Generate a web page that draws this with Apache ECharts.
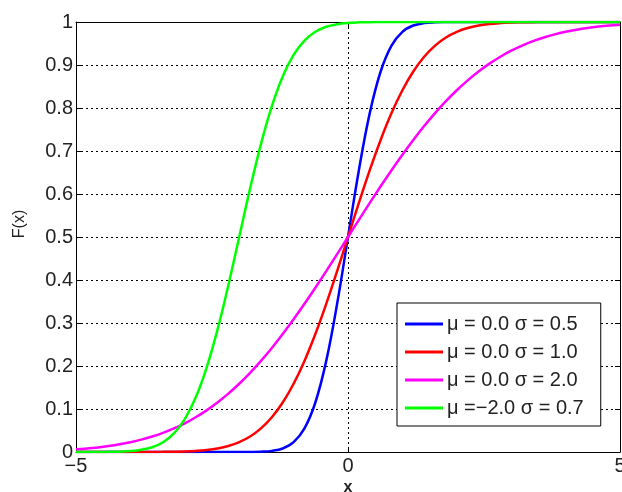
<!DOCTYPE html>
<html>
<head>
<meta charset="utf-8">
<script src="https://cdn.jsdelivr.net/npm/echarts@6/dist/echarts.min.js"></script>
<style>html,body{margin:0;padding:0;background:#fff;}#c{width:622px;height:492px;}</style>
</head>
<body>
<div id="c"></div>
<script>
var xValues = [-5.0,-4.8,-4.6,-4.4,-4.2,-4.0,-3.8,-3.6,-3.4,-3.2,-3.0,-2.8,-2.6,-2.4,-2.2,-2.0,-1.8,-1.6,-1.4,-1.2,-1.0,-0.8,-0.6,-0.4,-0.2,0.0,0.2,0.4,0.6,0.8,1.0,1.2,1.4,1.6,1.8,2.0,2.2,2.4,2.6,2.8,3.0,3.2,3.4,3.6,3.8,4.0,4.2,4.4,4.6,4.8,5.0];
var seriesNames = ['μ = 0.0 σ = 0.5', 'μ = 0.0 σ = 1.0', 'μ = 0.0 σ = 2.0', 'μ =−2.0 σ = 0.7'];
var blueValues = [0,0,0,0,0,0,0,0,0,0,0,0,0,0,0,0.0000,0.0002,0.0007,0.0026,0.0082,0.0228,0.0548,0.1151,0.2119,0.3446,0.5,0.6554,0.7881,0.8849,0.9452,0.9772,0.9918,0.9974,0.9993,0.9998,1,1,1,1,1,1,1,1,1,1,1,1,1,1,1,1];
var redValues = [0,0,0,0,0,0.00003,0.0001,0.0002,0.0003,0.0007,0.0013,0.0026,0.0047,0.0082,0.0139,0.0228,0.0359,0.0548,0.0808,0.1151,0.1587,0.2119,0.2743,0.3446,0.4207,0.5,0.5793,0.6554,0.7257,0.7881,0.8413,0.8849,0.9192,0.9452,0.9641,0.9772,0.9861,0.9918,0.9953,0.9974,0.9987,0.9993,0.9997,0.9998,0.9999,1,1,1,1,1,1];
var magentaValues = [0.0062,0.0082,0.0107,0.0139,0.0179,0.0228,0.0287,0.0359,0.0446,0.0548,0.0668,0.0808,0.0968,0.1151,0.1357,0.1587,0.1841,0.2119,0.2420,0.2743,0.3085,0.3446,0.3821,0.4207,0.4602,0.5,0.5398,0.5793,0.6179,0.6554,0.6915,0.7257,0.7580,0.7881,0.8159,0.8413,0.8643,0.8849,0.9032,0.9192,0.9332,0.9452,0.9554,0.9641,0.9713,0.9772,0.9821,0.9861,0.9893,0.9918,0.9938];
var greenValues = [0,0.00003,0.0001,0.0003,0.0008,0.0021,0.0051,0.0111,0.0228,0.0432,0.0766,0.1265,0.1957,0.2839,0.3875,0.5,0.6125,0.7161,0.8043,0.8735,0.9234,0.9568,0.9772,0.9889,0.9949,0.9979,0.9992,0.9997,0.9999,1,1,1,1,1,1,1,1,1,1,1,1,1,1,1,1,1,1,1,1,1,1];
var xTickStep = 5;
var yTickStep = 0.1;
var xLabel = 'x';
var yLabel = 'F(x)';
var colors = ['#0000ff', '#ff0000', '#ff00ff', '#00ff00'];

function pairs(vals){ return xValues.map(function(x,i){ return [x, vals[i]]; }); }
var allValues = [blueValues, redValues, magentaValues, greenValues];
var FONT = 'Liberation Sans, Arial, sans-serif';
function fmtNum(v){ return String(v).replace('-', '−'); }
var tickStyle = {show: true, inside: true, length: 5, lineStyle: {color: '#000'}};
var lineAx = {show: true, onZero: false, lineStyle: {color: '#000', width: 1}};
var dotted = {show: true, lineStyle: {color: '#000', type: [2, 3], width: 1}};

var chart = echarts.init(document.getElementById('c'), null, {renderer:'canvas'});
chart.setOption({
  animation: false,
  backgroundColor: '#fff',
  grid: {left: 76, right: 2, top: 22, bottom: 40, show: false, containLabel: false, outerBoundsMode: 'none'},
  xAxis: [{
    type: 'value', min: -5, max: 5, interval: xTickStep, position: 'bottom',
    axisLine: lineAx, axisTick: tickStyle,
    axisLabel: {fontFamily: FONT, fontSize: 20, color: '#222', margin: 4, formatter: fmtNum},
    splitLine: dotted
  }, {
    type: 'value', min: -5, max: 5, interval: xTickStep, position: 'top',
    axisLine: lineAx, axisTick: tickStyle, axisLabel: {show: false}, splitLine: {show: false}
  }],
  yAxis: [{
    type: 'value', min: 0, max: 1, interval: yTickStep, position: 'left',
    axisLine: lineAx, axisTick: tickStyle,
    axisLabel: {fontFamily: FONT, fontSize: 20, color: '#222', margin: 3,
      formatter: function(v){ return String(Math.round(v*10)/10); }},
    splitLine: dotted
  }, {
    type: 'value', min: 0, max: 1, interval: yTickStep, position: 'right',
    axisLine: lineAx, axisTick: tickStyle, axisLabel: {show: false}, splitLine: {show: false}
  }],
  graphic: [
    {type: 'text', x: 20, y: 224, rotation: Math.PI/2,
     style: {text: yLabel, font: '16px ' + FONT, fill: '#222', align: 'center', verticalAlign: 'middle'}},
    {type: 'text', x: 348, y: 488,
     style: {text: xLabel, font: 'bold 16px ' + FONT, fill: '#222', align: 'center', verticalAlign: 'middle'}}
  ],
  legend: {
    orient: 'vertical', left: 397, top: 303,
    backgroundColor: '#fff', borderColor: '#000', borderWidth: 1,
    padding: [11, 17, 8, 8], itemGap: 8, itemWidth: 38, itemHeight: 3,
    icon: 'rect',
    textStyle: {fontFamily: FONT, fontSize: 20, color: '#222', padding: [0,0,0,-1]},
    data: seriesNames
  },
  series: allValues.map(function(vals, i){
    return {
      name: seriesNames[i], type: 'line', data: pairs(vals),
      xAxisIndex: 0, yAxisIndex: 0,
      symbol: 'none', smooth: 0.4, clip: true,
      lineStyle: {color: colors[i], width: 2.5},
      itemStyle: {color: colors[i]},
      z: 2 + i
    };
  })
});
</script>
</body>
</html>
